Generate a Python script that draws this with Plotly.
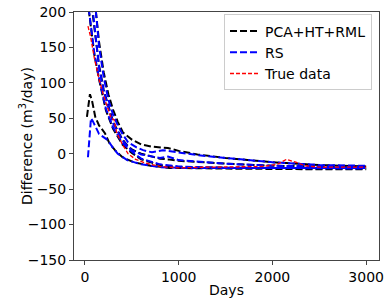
import plotly.graph_objects as go

# PCA+HT+RML ensemble (black)
k1_days = [21, 53, 75, 110, 150, 213, 260, 320, 400, 520, 700, 900, 1500, 2000, 2500, 3000]
k1_vals = [52, 84, 75, 52, 40, 29, 15, 5, -5, -12, -17, -20, -21, -22, -22, -22]
k2_days = [30, 43, 100, 150, 224, 300, 400, 500, 600, 800, 1000, 1500, 2000, 2500, 3000]
k2_vals = [260, 200, 140, 105, 61, 35, 13, 1, -8, -16, -19, -20, -21, -21, -21]
k3_days = [80, 117, 150, 200, 250, 300, 350, 405, 500, 600, 715, 885, 1000, 1200, 1500, 1760, 2000, 2500, 3000]
k3_vals = [300, 200, 158, 115, 84, 62, 45, 30, 20, 13, 10, 8, 4, -1, -6, -9, -12, -16, -18]
k4_days = [50, 80, 150, 200, 300, 400, 450, 500, 600, 800, 885, 1000, 1500, 1760, 2000, 2500, 3000]
k4_vals = [280, 200, 125, 90, 45, 20, 12, 6, 0, -7, -8, -10, -14, -16, -17, -18, -19]

# RS ensemble (blue)
u1_days = [32, 64, 80, 107, 150, 245, 300, 350, 450, 600, 800, 1000, 1500, 2000, 2500, 2990]
u1_vals = [-5, 50, 47, 40, 28, 19, 8, 0, -9, -15, -19, -20, -20, -20, -20, -20]
u2_days = [30, 43, 100, 150, 224, 300, 400, 500, 600, 800, 1000, 1500, 2000, 2500, 2990]
u2_vals = [262, 202, 142, 107, 63, 37, 15, 3, -7, -15, -18, -20, -20, -21, -21]
u3_days = [80, 117, 150, 200, 250, 300, 350, 400, 460, 550, 620, 715, 830, 885, 1010, 1200, 1500, 1760, 2000, 2500, 2990]
u3_vals = [300, 200, 152, 108, 76, 55, 40, 28, 16, 9, 5, 2, 5, 4, 2, -2, -6, -9, -12, -16, -17]
u4_days = [50, 85, 150, 200, 300, 400, 460, 500, 600, 800, 885, 1000, 1500, 2000, 2500, 2990]
u4_vals = [280, 200, 122, 88, 43, 19, 10, 5, -1, -6, -4, -9, -14, -17, -18, -19]

# True data (red)
t_days = [32, 60, 100, 150, 213, 250, 280, 310, 340, 400, 460, 540, 640, 800, 1000, 1300,
          1600, 1900, 2050, 2150, 2250, 2350, 2500, 2700, 3000]
t_vals = [180, 165, 135, 105, 76, 60, 50, 48, 29, 13, 0, -8, -13, -18, -20, -19,
          -18, -18, -15, -8, -12, -17, -19, -19, -19]

FONT = "DejaVu Sans"
fig = go.Figure()

black_sets = [(k1_days, k1_vals), (k2_days, k2_vals), (k3_days, k3_vals), (k4_days, k4_vals)]
blue_sets = [(u1_days, u1_vals), (u2_days, u2_vals), (u3_days, u3_vals), (u4_days, u4_vals)]

for i, (d, v) in enumerate(black_sets):
    fig.add_trace(go.Scatter(x=d, y=v, mode="lines", name="PCA+HT+RML",
                             line=dict(color="black", width=2, dash="7px,3px"),
                             showlegend=(i == 0), legendgroup="k"))
for i, (d, v) in enumerate(blue_sets):
    fig.add_trace(go.Scatter(x=d, y=v, mode="lines", name="RS",
                             line=dict(color="blue", width=2, dash="7px,3px"),
                             showlegend=(i == 0), legendgroup="u"))
fig.add_trace(go.Scatter(x=t_days, y=t_vals, mode="lines", name="True data",
                         line=dict(color="#ff0000", width=1.3, dash="4px,2px")))

axis_common = dict(showgrid=False, zeroline=False, showline=True, linecolor="#444", linewidth=1,
                   mirror=True, ticks="outside", ticklen=4, tickcolor="#444", automargin=False,
                   tickfont=dict(family=FONT, size=14, color="black"))

fig.update_layout(
    width=391, height=305,
    margin=dict(l=74, r=12, t=12, b=45),
    paper_bgcolor="white", plot_bgcolor="white",
    font=dict(family=FONT, size=14, color="black"),
    xaxis=dict(range=[-117, 3137], tickvals=[0, 1000, 2000, 3000], **axis_common),
    yaxis=dict(range=[-150, 200], tickvals=[-150, -100, -50, 0, 50, 100, 150, 200],
               ticktext=["\u2212150", "\u2212100", "\u221250", "0", "50", "100", "150", "200"],
               **axis_common),
    legend=dict(x=0.977, y=0.99, xanchor="right", yanchor="top", bgcolor="rgba(255,255,255,0.9)",
                bordercolor="#ccc", borderwidth=1, font=dict(family=FONT, size=14),
                tracegroupgap=0, itemwidth=30),
    showlegend=True,
    annotations=[
        dict(text="Days", xref="paper", yref="paper", x=0.5, y=0, xanchor="center", yanchor="middle",
             yshift=-30, showarrow=False, font=dict(family=FONT, size=14)),
        dict(text="Difference (m<sup>3</sup>/day)", xref="paper", yref="paper", x=0, y=0.5,
             xanchor="center", yanchor="middle", xshift=-48, textangle=-90, showarrow=False,
             font=dict(family=FONT, size=14)),
    ],
)

fig.write_html("out.html", config={"displayModeBar": False},
               post_script="document.body.style.margin='0';document.body.style.padding='0';")
